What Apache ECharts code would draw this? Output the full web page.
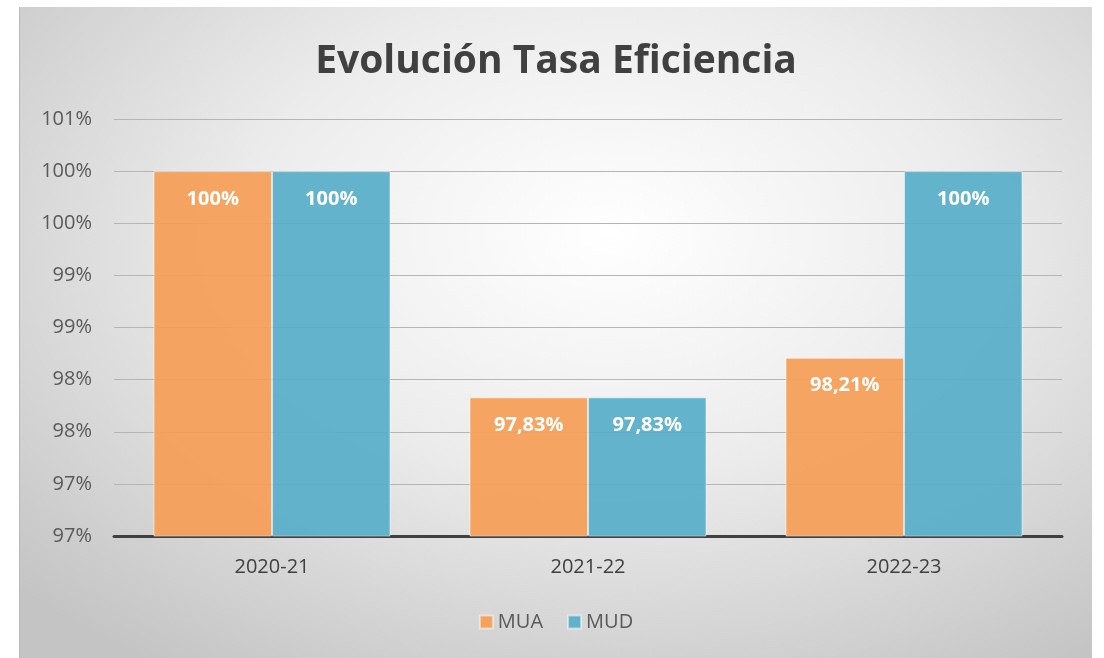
<!DOCTYPE html>
<html>
<head>
<meta charset="utf-8">
<script src="https://cdn.jsdelivr.net/npm/echarts@6/dist/echarts.min.js"></script>
<style>
  html, body { margin: 0; padding: 0; background: #ffffff; }
  #chart {
    position: absolute;
    left: 19px; top: 7px;
    width: 1073px; height: 651px;
    background: radial-gradient(ellipse 75% 80% at 55% 35%, #ffffff 0%, #ececec 45%, #c4c4c4 100%);
    border-left: 1px solid #b8b8b8;
    box-sizing: border-box;
  }
</style>
</head>
<body>
<div id="chart"></div>
<script>
// datos del gráfico
const categories = ['2020-21', '2021-22', '2022-23'];
const seriesNames = ['MUA', 'MUD'];
const muaValues = [100, 97.83, 98.21];
const mudValues = [100, 97.83, 100];

const chart = echarts.init(document.getElementById('chart'));
const font = '"Open Sans", sans-serif';

function pct(v) {
  // etiqueta con coma decimal como en el original
  if (v === 100) return '100%';
  return v.toFixed(2).replace('.', ',') + '%';
}

const barLabel = {
  show: true,
  position: 'insideTop',
  distance: 18,
  color: '#ffffff',
  fontWeight: 'bold',
  fontSize: 20,
  fontFamily: font,
  formatter: (p) => pct(p.value)
};

const option = {
  title: {
    text: 'Evolución Tasa Eficiencia',
    left: 'center',
    top: 30,
    textStyle: { fontSize: 39, fontWeight: 'bold', color: '#404040', fontFamily: font }
  },
  legend: {
    bottom: 21,
    left: 'center',
    itemWidth: 13,
    itemHeight: 13,
    itemGap: 24,
    icon: 'rect',
    textStyle: { fontSize: 20, color: '#595959', fontFamily: font },
    data: seriesNames
  },
  grid: { left: 94, right: 30, top: 112, bottom: 122 },
  xAxis: {
    type: 'category',
    data: categories,
    axisLine: { lineStyle: { color: '#404040', width: 3 } },
    axisTick: { show: false },
    axisLabel: { fontSize: 20, color: '#404040', margin: 21, fontFamily: font }
  },
  yAxis: {
    type: 'value',
    min: 96.5,
    max: 100.5,
    interval: 0.5,
    axisLine: { show: false },
    axisTick: { show: false },
    splitLine: { lineStyle: { color: '#b5b5b5', width: 1 } },
    axisLabel: {
      fontSize: 20, color: '#595959', margin: 22, fontFamily: font,
      formatter: (v) => Math.round(v) + '%'
    }
  },
  series: [
    {
      name: seriesNames[0],
      type: 'bar',
      data: muaValues,
      barGap: '0%',
      barCategoryGap: '25%',
      itemStyle: { color: 'rgba(245,157,86,0.92)', borderColor: 'rgba(255,255,255,0.5)', borderWidth: 1 },
      label: barLabel
    },
    {
      name: seriesNames[1],
      type: 'bar',
      data: mudValues,
      barGap: '0%',
      barCategoryGap: '25%',
      itemStyle: { color: 'rgba(86,174,200,0.92)', borderColor: 'rgba(255,255,255,0.5)', borderWidth: 1 },
      label: barLabel
    }
  ]
};

chart.setOption(option);
</script>
</body>
</html>
